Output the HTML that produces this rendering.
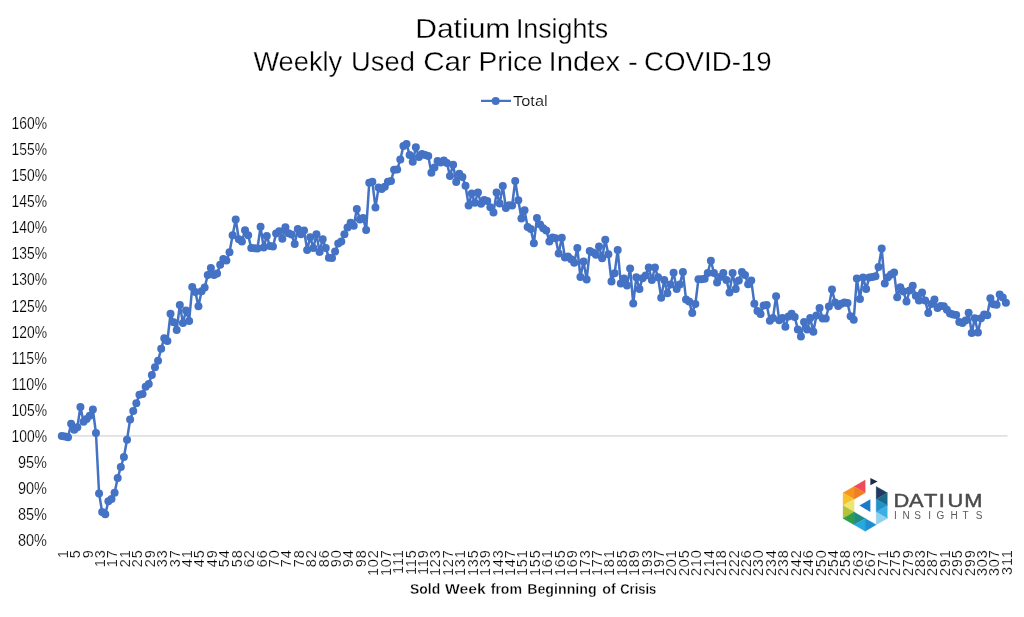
<!DOCTYPE html>
<html><head><meta charset="utf-8"><style>
html,body{margin:0;padding:0;background:#fff;}
body{width:1024px;height:617px;overflow:hidden;}
svg{display:block;will-change:transform;}
text{font-family:"Liberation Sans", sans-serif;}
</style></head><body>
<svg width="1024" height="617" viewBox="0 0 1024 617">
<rect width="1024" height="617" fill="#fff"/>
<g fill="#000">
<g stroke="#fff" stroke-width="0.3"><text x="415.21" y="37.7" font-size="27.5" fill="#000" textLength="95.19" lengthAdjust="spacingAndGlyphs">Datium</text><text x="515.88" y="37.7" font-size="27.5" fill="#000" textLength="92.28" lengthAdjust="spacingAndGlyphs">Insights</text><text x="253.40" y="70.8" font-size="27.5" fill="#000" textLength="88.78" lengthAdjust="spacingAndGlyphs">Weekly</text><text x="351.11" y="70.8" font-size="27.5" fill="#000" textLength="63.78" lengthAdjust="spacingAndGlyphs">Used</text><text x="423.22" y="70.8" font-size="27.5" fill="#000" textLength="47.71" lengthAdjust="spacingAndGlyphs">Car</text><text x="478.55" y="70.8" font-size="27.5" fill="#000" textLength="64.25" lengthAdjust="spacingAndGlyphs">Price</text><text x="548.50" y="70.8" font-size="27.5" fill="#000" textLength="71.70" lengthAdjust="spacingAndGlyphs">Index</text><text x="627.93" y="70.8" font-size="27.5" fill="#000" textLength="9.83" lengthAdjust="spacingAndGlyphs">-</text><text x="643.99" y="70.8" font-size="27.5" fill="#000" textLength="127.66" lengthAdjust="spacingAndGlyphs">COVID-19</text></g>
</g>
<g>
<line x1="481" y1="100.9" x2="511" y2="100.9" stroke="#4472C4" stroke-width="2.25"/>
<circle cx="495.7" cy="100.9" r="4" fill="#4472C4"/>
<g stroke="#fff" stroke-width="0.18"><text x="513.10" y="105.9" font-size="14.5" fill="#000" textLength="34.52" lengthAdjust="spacingAndGlyphs">Total</text></g>
</g>
<g font-size="16.2" fill="#000" stroke="#fff" stroke-width="0.18"><text x="11.50" y="129.10" textLength="35.5" lengthAdjust="spacingAndGlyphs">160%</text><text x="11.50" y="155.16" textLength="35.5" lengthAdjust="spacingAndGlyphs">155%</text><text x="11.50" y="181.22" textLength="35.5" lengthAdjust="spacingAndGlyphs">150%</text><text x="11.50" y="207.28" textLength="35.5" lengthAdjust="spacingAndGlyphs">145%</text><text x="11.50" y="233.34" textLength="35.5" lengthAdjust="spacingAndGlyphs">140%</text><text x="11.50" y="259.40" textLength="35.5" lengthAdjust="spacingAndGlyphs">135%</text><text x="11.50" y="285.46" textLength="35.5" lengthAdjust="spacingAndGlyphs">130%</text><text x="11.50" y="311.52" textLength="35.5" lengthAdjust="spacingAndGlyphs">125%</text><text x="11.50" y="337.58" textLength="35.5" lengthAdjust="spacingAndGlyphs">120%</text><text x="11.50" y="363.64" textLength="35.5" lengthAdjust="spacingAndGlyphs">115%</text><text x="11.50" y="389.70" textLength="35.5" lengthAdjust="spacingAndGlyphs">110%</text><text x="11.50" y="415.76" textLength="35.5" lengthAdjust="spacingAndGlyphs">105%</text><text x="11.50" y="441.82" textLength="35.5" lengthAdjust="spacingAndGlyphs">100%</text><text x="18.00" y="467.88" textLength="29.0" lengthAdjust="spacingAndGlyphs">95%</text><text x="18.00" y="493.94" textLength="29.0" lengthAdjust="spacingAndGlyphs">90%</text><text x="18.00" y="520.00" textLength="29.0" lengthAdjust="spacingAndGlyphs">85%</text><text x="18.00" y="546.06" textLength="29.0" lengthAdjust="spacingAndGlyphs">80%</text></g>
<line x1="59.9" y1="435.9" x2="1007.5" y2="435.9" stroke="#E0E0E0" stroke-width="1.75"/>
<polyline points="61.80,436.00 64.91,436.50 68.01,437.30 71.12,423.80 74.22,429.80 77.33,427.30 80.43,407.00 83.54,421.80 86.64,419.00 89.75,415.80 92.86,409.60 95.96,433.00 99.07,493.50 102.17,512.00 105.28,514.30 108.38,501.20 111.49,498.90 114.60,492.70 117.70,478.10 120.81,466.90 123.91,457.00 127.02,439.70 130.12,419.60 133.23,411.10 136.33,403.30 139.44,394.80 142.55,394.10 145.65,386.80 148.76,383.90 151.86,374.90 154.97,367.20 158.07,360.80 161.18,348.70 164.28,338.20 167.39,340.90 170.50,313.80 173.60,322.30 176.71,329.90 179.81,305.10 182.92,323.00 186.02,310.50 189.13,321.00 192.23,287.10 195.34,292.00 198.45,306.20 201.55,291.20 204.66,287.50 207.76,275.00 210.87,268.00 213.97,275.00 217.08,273.50 220.19,264.80 223.29,259.00 226.40,260.40 229.50,252.30 232.61,235.30 235.71,219.40 238.82,239.20 241.92,241.50 245.03,230.30 248.14,235.20 251.24,247.90 254.35,248.30 257.45,248.50 260.56,226.80 263.66,247.50 266.77,235.90 269.87,246.10 272.98,246.60 276.09,233.60 279.19,231.20 282.30,238.80 285.40,227.20 288.51,233.30 291.61,234.50 294.72,244.10 297.82,229.10 300.93,234.30 304.04,230.40 307.14,249.90 310.25,237.20 313.35,248.00 316.46,234.30 319.56,251.90 322.67,239.20 325.78,248.00 328.88,257.70 331.99,258.00 335.09,251.50 338.20,243.40 341.30,241.60 344.41,234.20 347.51,227.40 350.62,222.70 353.73,225.80 356.83,209.00 359.94,219.50 363.04,217.90 366.15,230.00 369.25,182.70 372.36,181.80 375.46,207.60 378.57,187.60 381.68,189.00 384.78,186.70 387.89,181.80 390.99,180.90 394.10,169.80 397.20,169.60 400.31,159.50 403.42,145.90 406.52,143.90 409.63,154.90 412.73,161.70 415.84,147.20 418.94,156.90 422.05,154.00 425.15,154.90 428.26,156.10 431.37,172.70 434.47,167.40 437.58,160.90 440.68,162.60 443.79,160.50 446.89,163.00 450.00,175.90 453.10,164.70 456.21,182.00 459.32,173.70 462.42,176.90 465.53,185.80 468.63,205.50 471.74,193.40 474.84,202.80 477.95,192.50 481.05,203.70 484.16,200.10 487.27,201.00 490.37,207.20 493.48,212.60 496.58,192.60 499.69,203.50 502.79,185.90 505.90,208.00 509.01,205.30 512.11,205.50 515.22,181.00 518.32,200.30 521.43,218.50 524.53,210.30 527.64,227.00 530.74,229.00 533.85,243.30 536.96,218.00 540.06,224.50 543.17,228.30 546.27,230.40 549.38,241.40 552.48,237.60 555.59,238.30 558.69,253.40 561.80,237.80 564.91,257.40 568.01,256.50 571.12,259.20 574.22,262.80 577.33,248.10 580.43,277.00 583.54,261.40 586.65,279.60 589.75,251.00 592.86,252.40 595.96,254.80 599.07,246.50 602.17,258.20 605.28,239.70 608.38,254.30 611.49,281.60 614.60,273.30 617.70,249.90 620.81,283.50 623.91,278.60 627.02,285.40 630.12,268.40 633.23,303.60 636.33,277.30 639.44,288.90 642.55,278.20 645.65,275.50 648.76,267.50 651.86,280.00 654.97,267.50 658.07,277.30 661.18,297.80 664.28,280.00 667.39,293.30 670.50,284.40 673.60,272.80 676.71,288.90 679.81,284.40 682.92,271.90 686.02,299.40 689.13,301.40 692.24,312.90 695.34,304.00 698.45,279.20 701.55,279.20 704.66,278.70 707.76,272.90 710.87,260.80 713.97,272.90 717.08,282.40 720.19,277.10 723.29,272.90 726.40,280.00 729.50,292.40 732.61,273.00 735.71,289.10 738.82,280.40 741.92,272.10 745.03,275.00 748.14,284.30 751.24,280.40 754.35,303.70 757.45,311.00 760.56,314.00 763.66,305.50 766.77,305.00 769.88,320.70 772.98,318.00 776.09,296.20 779.19,320.20 782.30,318.00 785.40,326.70 788.51,316.50 791.61,313.80 794.72,317.00 797.83,329.40 800.93,336.60 804.04,322.00 807.14,329.60 810.25,318.10 813.35,331.80 816.46,315.40 819.56,308.10 822.67,318.50 825.78,318.40 828.88,306.50 831.99,289.40 835.09,302.50 838.20,306.10 841.30,303.70 844.41,302.50 847.51,303.10 850.62,316.20 853.73,319.80 856.83,278.50 859.94,299.00 863.04,277.40 866.15,289.00 869.25,277.40 872.36,276.90 875.47,276.30 878.57,266.90 881.68,248.40 884.78,283.60 887.89,277.20 890.99,274.60 894.10,272.60 897.20,297.30 900.31,287.20 903.42,291.60 906.52,301.50 909.63,290.50 912.73,285.80 915.84,295.80 918.94,300.60 922.05,292.40 925.15,300.40 928.26,313.00 931.37,304.10 934.47,299.40 937.58,308.10 940.68,306.00 943.79,306.20 946.89,309.80 950.00,313.60 953.10,314.60 956.21,315.10 959.32,322.00 962.42,323.00 965.53,320.60 968.63,312.80 971.74,333.00 974.84,318.30 977.95,332.40 981.06,318.30 984.16,314.40 987.27,315.30 990.37,298.30 993.48,304.20 996.58,304.70 999.69,294.50 1002.79,297.60 1005.90,302.80" fill="none" stroke="#4472C4" stroke-width="2.5" stroke-linejoin="round"/>
<g fill="#4472C4"><circle cx="61.80" cy="436.00" r="4.0"/><circle cx="64.91" cy="436.50" r="4.0"/><circle cx="68.01" cy="437.30" r="4.0"/><circle cx="71.12" cy="423.80" r="4.0"/><circle cx="74.22" cy="429.80" r="4.0"/><circle cx="77.33" cy="427.30" r="4.0"/><circle cx="80.43" cy="407.00" r="4.0"/><circle cx="83.54" cy="421.80" r="4.0"/><circle cx="86.64" cy="419.00" r="4.0"/><circle cx="89.75" cy="415.80" r="4.0"/><circle cx="92.86" cy="409.60" r="4.0"/><circle cx="95.96" cy="433.00" r="4.0"/><circle cx="99.07" cy="493.50" r="4.0"/><circle cx="102.17" cy="512.00" r="4.0"/><circle cx="105.28" cy="514.30" r="4.0"/><circle cx="108.38" cy="501.20" r="4.0"/><circle cx="111.49" cy="498.90" r="4.0"/><circle cx="114.60" cy="492.70" r="4.0"/><circle cx="117.70" cy="478.10" r="4.0"/><circle cx="120.81" cy="466.90" r="4.0"/><circle cx="123.91" cy="457.00" r="4.0"/><circle cx="127.02" cy="439.70" r="4.0"/><circle cx="130.12" cy="419.60" r="4.0"/><circle cx="133.23" cy="411.10" r="4.0"/><circle cx="136.33" cy="403.30" r="4.0"/><circle cx="139.44" cy="394.80" r="4.0"/><circle cx="142.55" cy="394.10" r="4.0"/><circle cx="145.65" cy="386.80" r="4.0"/><circle cx="148.76" cy="383.90" r="4.0"/><circle cx="151.86" cy="374.90" r="4.0"/><circle cx="154.97" cy="367.20" r="4.0"/><circle cx="158.07" cy="360.80" r="4.0"/><circle cx="161.18" cy="348.70" r="4.0"/><circle cx="164.28" cy="338.20" r="4.0"/><circle cx="167.39" cy="340.90" r="4.0"/><circle cx="170.50" cy="313.80" r="4.0"/><circle cx="173.60" cy="322.30" r="4.0"/><circle cx="176.71" cy="329.90" r="4.0"/><circle cx="179.81" cy="305.10" r="4.0"/><circle cx="182.92" cy="323.00" r="4.0"/><circle cx="186.02" cy="310.50" r="4.0"/><circle cx="189.13" cy="321.00" r="4.0"/><circle cx="192.23" cy="287.10" r="4.0"/><circle cx="195.34" cy="292.00" r="4.0"/><circle cx="198.45" cy="306.20" r="4.0"/><circle cx="201.55" cy="291.20" r="4.0"/><circle cx="204.66" cy="287.50" r="4.0"/><circle cx="207.76" cy="275.00" r="4.0"/><circle cx="210.87" cy="268.00" r="4.0"/><circle cx="213.97" cy="275.00" r="4.0"/><circle cx="217.08" cy="273.50" r="4.0"/><circle cx="220.19" cy="264.80" r="4.0"/><circle cx="223.29" cy="259.00" r="4.0"/><circle cx="226.40" cy="260.40" r="4.0"/><circle cx="229.50" cy="252.30" r="4.0"/><circle cx="232.61" cy="235.30" r="4.0"/><circle cx="235.71" cy="219.40" r="4.0"/><circle cx="238.82" cy="239.20" r="4.0"/><circle cx="241.92" cy="241.50" r="4.0"/><circle cx="245.03" cy="230.30" r="4.0"/><circle cx="248.14" cy="235.20" r="4.0"/><circle cx="251.24" cy="247.90" r="4.0"/><circle cx="254.35" cy="248.30" r="4.0"/><circle cx="257.45" cy="248.50" r="4.0"/><circle cx="260.56" cy="226.80" r="4.0"/><circle cx="263.66" cy="247.50" r="4.0"/><circle cx="266.77" cy="235.90" r="4.0"/><circle cx="269.87" cy="246.10" r="4.0"/><circle cx="272.98" cy="246.60" r="4.0"/><circle cx="276.09" cy="233.60" r="4.0"/><circle cx="279.19" cy="231.20" r="4.0"/><circle cx="282.30" cy="238.80" r="4.0"/><circle cx="285.40" cy="227.20" r="4.0"/><circle cx="288.51" cy="233.30" r="4.0"/><circle cx="291.61" cy="234.50" r="4.0"/><circle cx="294.72" cy="244.10" r="4.0"/><circle cx="297.82" cy="229.10" r="4.0"/><circle cx="300.93" cy="234.30" r="4.0"/><circle cx="304.04" cy="230.40" r="4.0"/><circle cx="307.14" cy="249.90" r="4.0"/><circle cx="310.25" cy="237.20" r="4.0"/><circle cx="313.35" cy="248.00" r="4.0"/><circle cx="316.46" cy="234.30" r="4.0"/><circle cx="319.56" cy="251.90" r="4.0"/><circle cx="322.67" cy="239.20" r="4.0"/><circle cx="325.78" cy="248.00" r="4.0"/><circle cx="328.88" cy="257.70" r="4.0"/><circle cx="331.99" cy="258.00" r="4.0"/><circle cx="335.09" cy="251.50" r="4.0"/><circle cx="338.20" cy="243.40" r="4.0"/><circle cx="341.30" cy="241.60" r="4.0"/><circle cx="344.41" cy="234.20" r="4.0"/><circle cx="347.51" cy="227.40" r="4.0"/><circle cx="350.62" cy="222.70" r="4.0"/><circle cx="353.73" cy="225.80" r="4.0"/><circle cx="356.83" cy="209.00" r="4.0"/><circle cx="359.94" cy="219.50" r="4.0"/><circle cx="363.04" cy="217.90" r="4.0"/><circle cx="366.15" cy="230.00" r="4.0"/><circle cx="369.25" cy="182.70" r="4.0"/><circle cx="372.36" cy="181.80" r="4.0"/><circle cx="375.46" cy="207.60" r="4.0"/><circle cx="378.57" cy="187.60" r="4.0"/><circle cx="381.68" cy="189.00" r="4.0"/><circle cx="384.78" cy="186.70" r="4.0"/><circle cx="387.89" cy="181.80" r="4.0"/><circle cx="390.99" cy="180.90" r="4.0"/><circle cx="394.10" cy="169.80" r="4.0"/><circle cx="397.20" cy="169.60" r="4.0"/><circle cx="400.31" cy="159.50" r="4.0"/><circle cx="403.42" cy="145.90" r="4.0"/><circle cx="406.52" cy="143.90" r="4.0"/><circle cx="409.63" cy="154.90" r="4.0"/><circle cx="412.73" cy="161.70" r="4.0"/><circle cx="415.84" cy="147.20" r="4.0"/><circle cx="418.94" cy="156.90" r="4.0"/><circle cx="422.05" cy="154.00" r="4.0"/><circle cx="425.15" cy="154.90" r="4.0"/><circle cx="428.26" cy="156.10" r="4.0"/><circle cx="431.37" cy="172.70" r="4.0"/><circle cx="434.47" cy="167.40" r="4.0"/><circle cx="437.58" cy="160.90" r="4.0"/><circle cx="440.68" cy="162.60" r="4.0"/><circle cx="443.79" cy="160.50" r="4.0"/><circle cx="446.89" cy="163.00" r="4.0"/><circle cx="450.00" cy="175.90" r="4.0"/><circle cx="453.10" cy="164.70" r="4.0"/><circle cx="456.21" cy="182.00" r="4.0"/><circle cx="459.32" cy="173.70" r="4.0"/><circle cx="462.42" cy="176.90" r="4.0"/><circle cx="465.53" cy="185.80" r="4.0"/><circle cx="468.63" cy="205.50" r="4.0"/><circle cx="471.74" cy="193.40" r="4.0"/><circle cx="474.84" cy="202.80" r="4.0"/><circle cx="477.95" cy="192.50" r="4.0"/><circle cx="481.05" cy="203.70" r="4.0"/><circle cx="484.16" cy="200.10" r="4.0"/><circle cx="487.27" cy="201.00" r="4.0"/><circle cx="490.37" cy="207.20" r="4.0"/><circle cx="493.48" cy="212.60" r="4.0"/><circle cx="496.58" cy="192.60" r="4.0"/><circle cx="499.69" cy="203.50" r="4.0"/><circle cx="502.79" cy="185.90" r="4.0"/><circle cx="505.90" cy="208.00" r="4.0"/><circle cx="509.01" cy="205.30" r="4.0"/><circle cx="512.11" cy="205.50" r="4.0"/><circle cx="515.22" cy="181.00" r="4.0"/><circle cx="518.32" cy="200.30" r="4.0"/><circle cx="521.43" cy="218.50" r="4.0"/><circle cx="524.53" cy="210.30" r="4.0"/><circle cx="527.64" cy="227.00" r="4.0"/><circle cx="530.74" cy="229.00" r="4.0"/><circle cx="533.85" cy="243.30" r="4.0"/><circle cx="536.96" cy="218.00" r="4.0"/><circle cx="540.06" cy="224.50" r="4.0"/><circle cx="543.17" cy="228.30" r="4.0"/><circle cx="546.27" cy="230.40" r="4.0"/><circle cx="549.38" cy="241.40" r="4.0"/><circle cx="552.48" cy="237.60" r="4.0"/><circle cx="555.59" cy="238.30" r="4.0"/><circle cx="558.69" cy="253.40" r="4.0"/><circle cx="561.80" cy="237.80" r="4.0"/><circle cx="564.91" cy="257.40" r="4.0"/><circle cx="568.01" cy="256.50" r="4.0"/><circle cx="571.12" cy="259.20" r="4.0"/><circle cx="574.22" cy="262.80" r="4.0"/><circle cx="577.33" cy="248.10" r="4.0"/><circle cx="580.43" cy="277.00" r="4.0"/><circle cx="583.54" cy="261.40" r="4.0"/><circle cx="586.65" cy="279.60" r="4.0"/><circle cx="589.75" cy="251.00" r="4.0"/><circle cx="592.86" cy="252.40" r="4.0"/><circle cx="595.96" cy="254.80" r="4.0"/><circle cx="599.07" cy="246.50" r="4.0"/><circle cx="602.17" cy="258.20" r="4.0"/><circle cx="605.28" cy="239.70" r="4.0"/><circle cx="608.38" cy="254.30" r="4.0"/><circle cx="611.49" cy="281.60" r="4.0"/><circle cx="614.60" cy="273.30" r="4.0"/><circle cx="617.70" cy="249.90" r="4.0"/><circle cx="620.81" cy="283.50" r="4.0"/><circle cx="623.91" cy="278.60" r="4.0"/><circle cx="627.02" cy="285.40" r="4.0"/><circle cx="630.12" cy="268.40" r="4.0"/><circle cx="633.23" cy="303.60" r="4.0"/><circle cx="636.33" cy="277.30" r="4.0"/><circle cx="639.44" cy="288.90" r="4.0"/><circle cx="642.55" cy="278.20" r="4.0"/><circle cx="645.65" cy="275.50" r="4.0"/><circle cx="648.76" cy="267.50" r="4.0"/><circle cx="651.86" cy="280.00" r="4.0"/><circle cx="654.97" cy="267.50" r="4.0"/><circle cx="658.07" cy="277.30" r="4.0"/><circle cx="661.18" cy="297.80" r="4.0"/><circle cx="664.28" cy="280.00" r="4.0"/><circle cx="667.39" cy="293.30" r="4.0"/><circle cx="670.50" cy="284.40" r="4.0"/><circle cx="673.60" cy="272.80" r="4.0"/><circle cx="676.71" cy="288.90" r="4.0"/><circle cx="679.81" cy="284.40" r="4.0"/><circle cx="682.92" cy="271.90" r="4.0"/><circle cx="686.02" cy="299.40" r="4.0"/><circle cx="689.13" cy="301.40" r="4.0"/><circle cx="692.24" cy="312.90" r="4.0"/><circle cx="695.34" cy="304.00" r="4.0"/><circle cx="698.45" cy="279.20" r="4.0"/><circle cx="701.55" cy="279.20" r="4.0"/><circle cx="704.66" cy="278.70" r="4.0"/><circle cx="707.76" cy="272.90" r="4.0"/><circle cx="710.87" cy="260.80" r="4.0"/><circle cx="713.97" cy="272.90" r="4.0"/><circle cx="717.08" cy="282.40" r="4.0"/><circle cx="720.19" cy="277.10" r="4.0"/><circle cx="723.29" cy="272.90" r="4.0"/><circle cx="726.40" cy="280.00" r="4.0"/><circle cx="729.50" cy="292.40" r="4.0"/><circle cx="732.61" cy="273.00" r="4.0"/><circle cx="735.71" cy="289.10" r="4.0"/><circle cx="738.82" cy="280.40" r="4.0"/><circle cx="741.92" cy="272.10" r="4.0"/><circle cx="745.03" cy="275.00" r="4.0"/><circle cx="748.14" cy="284.30" r="4.0"/><circle cx="751.24" cy="280.40" r="4.0"/><circle cx="754.35" cy="303.70" r="4.0"/><circle cx="757.45" cy="311.00" r="4.0"/><circle cx="760.56" cy="314.00" r="4.0"/><circle cx="763.66" cy="305.50" r="4.0"/><circle cx="766.77" cy="305.00" r="4.0"/><circle cx="769.88" cy="320.70" r="4.0"/><circle cx="772.98" cy="318.00" r="4.0"/><circle cx="776.09" cy="296.20" r="4.0"/><circle cx="779.19" cy="320.20" r="4.0"/><circle cx="782.30" cy="318.00" r="4.0"/><circle cx="785.40" cy="326.70" r="4.0"/><circle cx="788.51" cy="316.50" r="4.0"/><circle cx="791.61" cy="313.80" r="4.0"/><circle cx="794.72" cy="317.00" r="4.0"/><circle cx="797.83" cy="329.40" r="4.0"/><circle cx="800.93" cy="336.60" r="4.0"/><circle cx="804.04" cy="322.00" r="4.0"/><circle cx="807.14" cy="329.60" r="4.0"/><circle cx="810.25" cy="318.10" r="4.0"/><circle cx="813.35" cy="331.80" r="4.0"/><circle cx="816.46" cy="315.40" r="4.0"/><circle cx="819.56" cy="308.10" r="4.0"/><circle cx="822.67" cy="318.50" r="4.0"/><circle cx="825.78" cy="318.40" r="4.0"/><circle cx="828.88" cy="306.50" r="4.0"/><circle cx="831.99" cy="289.40" r="4.0"/><circle cx="835.09" cy="302.50" r="4.0"/><circle cx="838.20" cy="306.10" r="4.0"/><circle cx="841.30" cy="303.70" r="4.0"/><circle cx="844.41" cy="302.50" r="4.0"/><circle cx="847.51" cy="303.10" r="4.0"/><circle cx="850.62" cy="316.20" r="4.0"/><circle cx="853.73" cy="319.80" r="4.0"/><circle cx="856.83" cy="278.50" r="4.0"/><circle cx="859.94" cy="299.00" r="4.0"/><circle cx="863.04" cy="277.40" r="4.0"/><circle cx="866.15" cy="289.00" r="4.0"/><circle cx="869.25" cy="277.40" r="4.0"/><circle cx="872.36" cy="276.90" r="4.0"/><circle cx="875.47" cy="276.30" r="4.0"/><circle cx="878.57" cy="266.90" r="4.0"/><circle cx="881.68" cy="248.40" r="4.0"/><circle cx="884.78" cy="283.60" r="4.0"/><circle cx="887.89" cy="277.20" r="4.0"/><circle cx="890.99" cy="274.60" r="4.0"/><circle cx="894.10" cy="272.60" r="4.0"/><circle cx="897.20" cy="297.30" r="4.0"/><circle cx="900.31" cy="287.20" r="4.0"/><circle cx="903.42" cy="291.60" r="4.0"/><circle cx="906.52" cy="301.50" r="4.0"/><circle cx="909.63" cy="290.50" r="4.0"/><circle cx="912.73" cy="285.80" r="4.0"/><circle cx="915.84" cy="295.80" r="4.0"/><circle cx="918.94" cy="300.60" r="4.0"/><circle cx="922.05" cy="292.40" r="4.0"/><circle cx="925.15" cy="300.40" r="4.0"/><circle cx="928.26" cy="313.00" r="4.0"/><circle cx="931.37" cy="304.10" r="4.0"/><circle cx="934.47" cy="299.40" r="4.0"/><circle cx="937.58" cy="308.10" r="4.0"/><circle cx="940.68" cy="306.00" r="4.0"/><circle cx="943.79" cy="306.20" r="4.0"/><circle cx="946.89" cy="309.80" r="4.0"/><circle cx="950.00" cy="313.60" r="4.0"/><circle cx="953.10" cy="314.60" r="4.0"/><circle cx="956.21" cy="315.10" r="4.0"/><circle cx="959.32" cy="322.00" r="4.0"/><circle cx="962.42" cy="323.00" r="4.0"/><circle cx="965.53" cy="320.60" r="4.0"/><circle cx="968.63" cy="312.80" r="4.0"/><circle cx="971.74" cy="333.00" r="4.0"/><circle cx="974.84" cy="318.30" r="4.0"/><circle cx="977.95" cy="332.40" r="4.0"/><circle cx="981.06" cy="318.30" r="4.0"/><circle cx="984.16" cy="314.40" r="4.0"/><circle cx="987.27" cy="315.30" r="4.0"/><circle cx="990.37" cy="298.30" r="4.0"/><circle cx="993.48" cy="304.20" r="4.0"/><circle cx="996.58" cy="304.70" r="4.0"/><circle cx="999.69" cy="294.50" r="4.0"/><circle cx="1002.79" cy="297.60" r="4.0"/><circle cx="1005.90" cy="302.80" r="4.0"/></g>
<g font-size="14.5" fill="#000" stroke="#fff" stroke-width="0.18" letter-spacing="0.9"><text x="67.80" y="549.20" transform="rotate(-90 67.80 549.20)" text-anchor="end">1</text><text x="80.22" y="549.20" transform="rotate(-90 80.22 549.20)" text-anchor="end">5</text><text x="92.64" y="549.20" transform="rotate(-90 92.64 549.20)" text-anchor="end">9</text><text x="105.07" y="549.20" transform="rotate(-90 105.07 549.20)" text-anchor="end">13</text><text x="117.49" y="549.20" transform="rotate(-90 117.49 549.20)" text-anchor="end">17</text><text x="129.91" y="549.20" transform="rotate(-90 129.91 549.20)" text-anchor="end">21</text><text x="142.33" y="549.20" transform="rotate(-90 142.33 549.20)" text-anchor="end">25</text><text x="154.76" y="549.20" transform="rotate(-90 154.76 549.20)" text-anchor="end">29</text><text x="167.18" y="549.20" transform="rotate(-90 167.18 549.20)" text-anchor="end">33</text><text x="179.60" y="549.20" transform="rotate(-90 179.60 549.20)" text-anchor="end">37</text><text x="192.02" y="549.20" transform="rotate(-90 192.02 549.20)" text-anchor="end">41</text><text x="204.45" y="549.20" transform="rotate(-90 204.45 549.20)" text-anchor="end">45</text><text x="216.87" y="549.20" transform="rotate(-90 216.87 549.20)" text-anchor="end">49</text><text x="229.29" y="549.20" transform="rotate(-90 229.29 549.20)" text-anchor="end">54</text><text x="241.71" y="549.20" transform="rotate(-90 241.71 549.20)" text-anchor="end">58</text><text x="254.14" y="549.20" transform="rotate(-90 254.14 549.20)" text-anchor="end">62</text><text x="266.56" y="549.20" transform="rotate(-90 266.56 549.20)" text-anchor="end">66</text><text x="278.98" y="549.20" transform="rotate(-90 278.98 549.20)" text-anchor="end">70</text><text x="291.40" y="549.20" transform="rotate(-90 291.40 549.20)" text-anchor="end">74</text><text x="303.82" y="549.20" transform="rotate(-90 303.82 549.20)" text-anchor="end">78</text><text x="316.25" y="549.20" transform="rotate(-90 316.25 549.20)" text-anchor="end">82</text><text x="328.67" y="549.20" transform="rotate(-90 328.67 549.20)" text-anchor="end">86</text><text x="341.09" y="549.20" transform="rotate(-90 341.09 549.20)" text-anchor="end">90</text><text x="353.51" y="549.20" transform="rotate(-90 353.51 549.20)" text-anchor="end">94</text><text x="365.94" y="549.20" transform="rotate(-90 365.94 549.20)" text-anchor="end">98</text><text x="378.36" y="549.20" transform="rotate(-90 378.36 549.20)" text-anchor="end">102</text><text x="390.78" y="549.20" transform="rotate(-90 390.78 549.20)" text-anchor="end">107</text><text x="403.20" y="549.20" transform="rotate(-90 403.20 549.20)" text-anchor="end">111</text><text x="415.63" y="549.20" transform="rotate(-90 415.63 549.20)" text-anchor="end">115</text><text x="428.05" y="549.20" transform="rotate(-90 428.05 549.20)" text-anchor="end">119</text><text x="440.47" y="549.20" transform="rotate(-90 440.47 549.20)" text-anchor="end">123</text><text x="452.89" y="549.20" transform="rotate(-90 452.89 549.20)" text-anchor="end">127</text><text x="465.32" y="549.20" transform="rotate(-90 465.32 549.20)" text-anchor="end">131</text><text x="477.74" y="549.20" transform="rotate(-90 477.74 549.20)" text-anchor="end">135</text><text x="490.16" y="549.20" transform="rotate(-90 490.16 549.20)" text-anchor="end">139</text><text x="502.58" y="549.20" transform="rotate(-90 502.58 549.20)" text-anchor="end">143</text><text x="515.01" y="549.20" transform="rotate(-90 515.01 549.20)" text-anchor="end">147</text><text x="527.43" y="549.20" transform="rotate(-90 527.43 549.20)" text-anchor="end">151</text><text x="539.85" y="549.20" transform="rotate(-90 539.85 549.20)" text-anchor="end">155</text><text x="552.27" y="549.20" transform="rotate(-90 552.27 549.20)" text-anchor="end">161</text><text x="564.69" y="549.20" transform="rotate(-90 564.69 549.20)" text-anchor="end">165</text><text x="577.12" y="549.20" transform="rotate(-90 577.12 549.20)" text-anchor="end">169</text><text x="589.54" y="549.20" transform="rotate(-90 589.54 549.20)" text-anchor="end">173</text><text x="601.96" y="549.20" transform="rotate(-90 601.96 549.20)" text-anchor="end">177</text><text x="614.38" y="549.20" transform="rotate(-90 614.38 549.20)" text-anchor="end">181</text><text x="626.81" y="549.20" transform="rotate(-90 626.81 549.20)" text-anchor="end">185</text><text x="639.23" y="549.20" transform="rotate(-90 639.23 549.20)" text-anchor="end">189</text><text x="651.65" y="549.20" transform="rotate(-90 651.65 549.20)" text-anchor="end">193</text><text x="664.07" y="549.20" transform="rotate(-90 664.07 549.20)" text-anchor="end">197</text><text x="676.50" y="549.20" transform="rotate(-90 676.50 549.20)" text-anchor="end">201</text><text x="688.92" y="549.20" transform="rotate(-90 688.92 549.20)" text-anchor="end">205</text><text x="701.34" y="549.20" transform="rotate(-90 701.34 549.20)" text-anchor="end">210</text><text x="713.76" y="549.20" transform="rotate(-90 713.76 549.20)" text-anchor="end">214</text><text x="726.19" y="549.20" transform="rotate(-90 726.19 549.20)" text-anchor="end">218</text><text x="738.61" y="549.20" transform="rotate(-90 738.61 549.20)" text-anchor="end">222</text><text x="751.03" y="549.20" transform="rotate(-90 751.03 549.20)" text-anchor="end">226</text><text x="763.45" y="549.20" transform="rotate(-90 763.45 549.20)" text-anchor="end">230</text><text x="775.88" y="549.20" transform="rotate(-90 775.88 549.20)" text-anchor="end">234</text><text x="788.30" y="549.20" transform="rotate(-90 788.30 549.20)" text-anchor="end">238</text><text x="800.72" y="549.20" transform="rotate(-90 800.72 549.20)" text-anchor="end">242</text><text x="813.14" y="549.20" transform="rotate(-90 813.14 549.20)" text-anchor="end">246</text><text x="825.56" y="549.20" transform="rotate(-90 825.56 549.20)" text-anchor="end">250</text><text x="837.99" y="549.20" transform="rotate(-90 837.99 549.20)" text-anchor="end">254</text><text x="850.41" y="549.20" transform="rotate(-90 850.41 549.20)" text-anchor="end">258</text><text x="862.83" y="549.20" transform="rotate(-90 862.83 549.20)" text-anchor="end">263</text><text x="875.25" y="549.20" transform="rotate(-90 875.25 549.20)" text-anchor="end">267</text><text x="887.68" y="549.20" transform="rotate(-90 887.68 549.20)" text-anchor="end">271</text><text x="900.10" y="549.20" transform="rotate(-90 900.10 549.20)" text-anchor="end">275</text><text x="912.52" y="549.20" transform="rotate(-90 912.52 549.20)" text-anchor="end">279</text><text x="924.94" y="549.20" transform="rotate(-90 924.94 549.20)" text-anchor="end">283</text><text x="937.37" y="549.20" transform="rotate(-90 937.37 549.20)" text-anchor="end">287</text><text x="949.79" y="549.20" transform="rotate(-90 949.79 549.20)" text-anchor="end">291</text><text x="962.21" y="549.20" transform="rotate(-90 962.21 549.20)" text-anchor="end">295</text><text x="974.63" y="549.20" transform="rotate(-90 974.63 549.20)" text-anchor="end">299</text><text x="987.06" y="549.20" transform="rotate(-90 987.06 549.20)" text-anchor="end">303</text><text x="999.48" y="549.20" transform="rotate(-90 999.48 549.20)" text-anchor="end">307</text><text x="1011.90" y="549.20" transform="rotate(-90 1011.90 549.20)" text-anchor="end">311</text></g>
<g stroke="#fff" stroke-width="0.35"><text x="410.07" y="594.0" font-size="15" font-weight="bold" fill="#000" textLength="30.09" lengthAdjust="spacingAndGlyphs">Sold</text><text x="445.00" y="594.0" font-size="15" font-weight="bold" fill="#000" textLength="40.72" lengthAdjust="spacingAndGlyphs">Week</text><text x="490.70" y="594.0" font-size="15" font-weight="bold" fill="#000" textLength="31.32" lengthAdjust="spacingAndGlyphs">from</text><text x="527.15" y="594.0" font-size="15" font-weight="bold" fill="#000" textLength="69.56" lengthAdjust="spacingAndGlyphs">Beginning</text><text x="602.25" y="594.0" font-size="15" font-weight="bold" fill="#000" textLength="13.41" lengthAdjust="spacingAndGlyphs">of</text><text x="620.24" y="594.0" font-size="15" font-weight="bold" fill="#000" textLength="36.07" lengthAdjust="spacingAndGlyphs">Crisis</text></g>
<g><polygon points="843.0,492.8 854.1,486.4 854.1,499.2" fill="#F7941D" stroke="#F7941D" stroke-width="0.35" stroke-linejoin="round"/><polygon points="843.0,492.8 854.1,499.2 843.0,505.6" fill="#F8C02C" stroke="#F8C02C" stroke-width="0.35" stroke-linejoin="round"/><polygon points="854.1,499.2 843.0,505.6 854.1,512.0" fill="#ECE675" stroke="#ECE675" stroke-width="0.35" stroke-linejoin="round"/><polygon points="843.0,505.6 854.1,512.0 843.0,518.4" fill="#B5C239" stroke="#B5C239" stroke-width="0.35" stroke-linejoin="round"/><polygon points="854.1,512.0 843.0,518.4 854.1,524.8" fill="#2F9E49" stroke="#2F9E49" stroke-width="0.35" stroke-linejoin="round"/><polygon points="854.1,486.4 865.2,480.0 865.2,492.8" fill="#EE4A5B" stroke="#EE4A5B" stroke-width="0.35" stroke-linejoin="round"/><polygon points="854.1,486.4 865.2,492.8 854.1,499.2" fill="#F07E23" stroke="#F07E23" stroke-width="0.35" stroke-linejoin="round"/><polygon points="854.1,512.0 865.2,518.4 854.1,524.8" fill="#1E8C7F" stroke="#1E8C7F" stroke-width="0.35" stroke-linejoin="round"/><polygon points="865.2,518.4 854.1,524.8 865.2,531.2" fill="#27A8DF" stroke="#27A8DF" stroke-width="0.35" stroke-linejoin="round"/><polygon points="865.2,518.4 876.2,524.8 865.2,531.2" fill="#1E8ECF" stroke="#1E8ECF" stroke-width="0.35" stroke-linejoin="round"/><polygon points="876.2,486.4 887.3,492.8 876.2,499.2" fill="#223A63" stroke="#223A63" stroke-width="0.35" stroke-linejoin="round"/><polygon points="887.3,492.8 876.2,499.2 887.3,505.6" fill="#1B6988" stroke="#1B6988" stroke-width="0.35" stroke-linejoin="round"/><polygon points="876.2,499.2 887.3,505.6 876.2,512.0" fill="#2391C9" stroke="#2391C9" stroke-width="0.35" stroke-linejoin="round"/><polygon points="887.3,505.6 876.2,512.0 887.3,518.4" fill="#39AFE5" stroke="#39AFE5" stroke-width="0.35" stroke-linejoin="round"/><polygon points="876.2,512.0 887.3,518.4 876.2,524.8" fill="#92D1EE" stroke="#92D1EE" stroke-width="0.35" stroke-linejoin="round"/><polygon points="859.4,505.6 870.4,499.2 870.4,512.0" fill="#1A7CC9"/><polygon points="870.4,478.0 877.6,481.6 870.4,485.2" fill="#1B2A4E"/></g>
<g font-size="19" fill="#4B4B4D" stroke="#4B4B4D" stroke-width="0.45"><text x="893.61" y="507" textLength="15.78" lengthAdjust="spacingAndGlyphs">D</text><text x="909.11" y="507" textLength="14.57" lengthAdjust="spacingAndGlyphs">A</text><text x="924.12" y="507" textLength="13.35" lengthAdjust="spacingAndGlyphs">T</text><text x="938.76" y="507" textLength="6.07" lengthAdjust="spacingAndGlyphs">I</text><text x="947.61" y="507" textLength="15.78" lengthAdjust="spacingAndGlyphs">U</text><text x="964.20" y="507" textLength="18.20" lengthAdjust="spacingAndGlyphs">M</text></g>
<g font-size="10" fill="#5A5A5C"><text x="895.3" y="518.8" text-anchor="middle">I</text><text x="906.0" y="518.8" text-anchor="middle">N</text><text x="917.6" y="518.8" text-anchor="middle">S</text><text x="929.7" y="518.8" text-anchor="middle">I</text><text x="940.3" y="518.8" text-anchor="middle">G</text><text x="954.2" y="518.8" text-anchor="middle">H</text><text x="965.6" y="518.8" text-anchor="middle">T</text><text x="979.1" y="518.8" text-anchor="middle">S</text></g>
</svg>
</body></html>
